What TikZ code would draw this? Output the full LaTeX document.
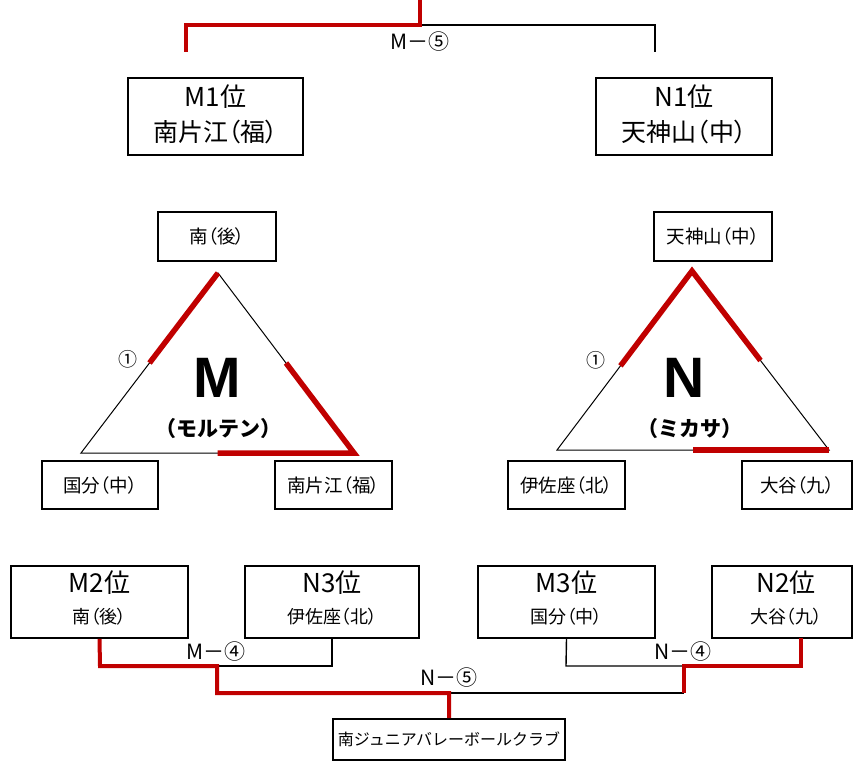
\documentclass[tikz,border=0pt]{standalone}
\usepackage{fontspec}
\setmainfont{Noto Sans CJK JP}[RawFeature={+palt}]
\newfontfamily\cjkfull{Noto Sans CJK JP}
\newfontfamily\latinbold{Liberation Sans}[Scale=1]
\usetikzlibrary{calc}
\definecolor{tred}{HTML}{C00000}
\begin{document}
\begin{tikzpicture}[x=1pt,y=-1pt,
  bx/.style={draw, line width=1.7pt, inner sep=0pt},
  blk/.style={draw=black, line width=1.4pt},
  redl/.style={draw=tred, line width=4pt, line join=miter},
  tri/.style={draw=black, line width=1pt},
  tredl/.style={draw=tred, line width=5.5pt, line join=miter},
  big/.style={font=\fontsize{25}{34}\selectfont, align=center},
  med/.style={font=\fontsize{18.5}{20}\selectfont},
  sml/.style={font=\fontsize{18}{20}\selectfont},
  head/.style={font=\fontsize{26}{28}\selectfont, inner sep=0pt},
  lbl/.style={font=\fontsize{21}{24}\selectfont, inner sep=0pt},
  circ/.style={font=\fontsize{19}{20}\selectfont, inner sep=0pt},
  huge/.style={font=\latinbold\bfseries\fontsize{57}{60}\selectfont, inner sep=0pt},
  kata/.style={font=\cjkfull\bfseries\fontsize{21}{24}\selectfont, inner sep=0pt}
]
\useasboundingbox (0,0) rectangle (854,761);

% ---- top final ----
\node[bx, minimum width=175pt, minimum height=77pt] (m1) at (215.5,116.5) {};
\node[bx, minimum width=176pt, minimum height=77pt] (n1) at (684,116.5) {};
\node[head] (m1a) at (215.5,97) {M1位};
\node[head, font=\fontsize{25}{28}\selectfont] (m1b) at (215.5,132) {南片江（福）};
\node[head] (n1a) at (684,97) {N1位};
\node[head, font=\fontsize{25}{28}\selectfont] (n1b) at (684,132) {天神山（中）};
\coordinate (t0) at (420,0);
\coordinate (t1) at (420,25);
\coordinate (tl) at (186,25);
\coordinate (tl2) at (186,52);
\coordinate (tr) at (655,25);
\coordinate (tr2) at (655,52);
\draw[blk] (t1) -- (tr) -- (tr2);
\draw[redl] (t0) -- (t1) -- (tl) -- (tl2);
\node[lbl] (lm5) at (420,42) {M－⑤};

% ---- league M ----
\node[bx, med, minimum width=118pt, minimum height=49pt] (mt) at (217,236.5) {南（後）};
\node[bx, med, minimum width=116pt, minimum height=48pt] (mbl) at (100,485) {国分（中）};
\node[bx, med, minimum width=117pt, minimum height=48pt] (mbr) at (333.5,485) {南片江（福）};
\coordinate (ma) at (218,273);
\coordinate (mb1) at (81,453);
\coordinate (mb2) at (354,453);
\draw[tri] (ma) -- (mb1) -- (mb2) -- cycle;
\draw[tredl] (ma) -- ($(ma)!0.5!(mb1)$);
\draw[tredl] ($(ma)!0.5!(mb2)$) -- (mb2) -- ($(mb1)!0.5!(mb2)$);
\node[circ] (mc1) at (128,359) {①};
\node[huge] (mM) at (217,378) {M};
\node[kata] (mk) at (218,429) {（モルテン）};

% ---- league N ----
\node[bx, med, minimum width=118pt, minimum height=49pt] (nt) at (713,236.5) {天神山（中）};
\node[bx, med, minimum width=117pt, minimum height=48pt] (nbl) at (566.5,485) {伊佐座（北）};
\node[bx, med, minimum width=110pt, minimum height=48pt] (nbr) at (797,485) {大谷（九）};
\coordinate (na) at (692,271);
\coordinate (nb1) at (557,450);
\coordinate (nb2) at (829,450);
\draw[tri] (na) -- (nb1) -- (nb2) -- cycle;
\draw[tredl] ($(na)!0.53!(nb1)$) -- (na) -- ($(na)!0.5!(nb2)$);
\draw[tredl] ($(nb1)!0.5!(nb2)$) -- (nb2);
\node[circ] (nc1) at (596,360) {①};
\node[huge] (nN) at (684,378) {N};
\node[kata] (nk) at (690,429) {（ミカサ）};

% ---- bottom bracket ----
\node[bx, minimum width=177pt, minimum height=72pt] (m2) at (99.5,602) {};
\node[bx, minimum width=174pt, minimum height=72pt] (n3) at (332,602) {};
\node[bx, minimum width=177pt, minimum height=72pt] (m3) at (566.5,602) {};
\node[bx, minimum width=140pt, minimum height=72pt] (n2) at (782,602) {};
\node[head] (m2a) at (99.5,583) {M2位};
\node[sml] (m2b) at (99.5,617) {南（後）};
\node[head] (n3a) at (332,583) {N3位};
\node[sml] (n3b) at (332,617) {伊佐座（北）};
\node[head] (m3a) at (566.5,583) {M3位};
\node[sml] (m3b) at (566.5,617) {国分（中）};
\node[head] (n2a) at (786,583) {N2位};
\node[sml] (n2b) at (786,617) {大谷（九）};
\node[bx, minimum width=232pt, minimum height=41pt, font=\cjkfull\fontsize{16}{18}\selectfont] (fin) at (449,739.5) {南ジュニアバレーボールクラブ};

\coordinate (a1) at (100,666);
\coordinate (a2) at (217,666);
\coordinate (a3) at (332,666);
\coordinate (a4) at (217,693);
\coordinate (a5) at (449,693);
\coordinate (b1) at (566,666);
\coordinate (b2) at (684,666);
\coordinate (b3) at (801,666);
\coordinate (b4) at (684,693);
\coordinate (n2s) at (801,638);
\draw[blk] (a2) -- (a3) -- (n3.south);
\draw[blk] (m3.south) -- (b1) -- (b2);
\draw[blk] (a5) -- (b4);
\draw[redl] (m2.south) -- (a1) -- (a2) -- (a4) -- (a5) -- (fin.north);
\draw[redl] (b4) -- (b2) -- (b3) -- (n2s);
\node[lbl] (lm4) at (216,652) {M－④};
\node[lbl] (ln4) at (683,652) {N－④};
\node[lbl] (ln5) at (449,678) {N－⑤};
\end{tikzpicture}
\end{document}
